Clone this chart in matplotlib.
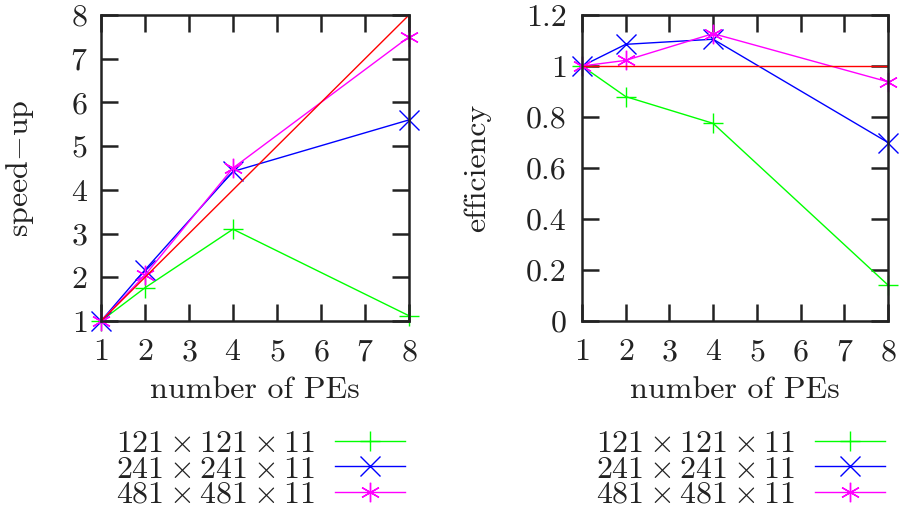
import matplotlib
matplotlib.use("Agg")
import matplotlib.pyplot as plt

plt.rcParams['mathtext.fontset'] = 'cm'
plt.rcParams['font.family'] = ['cmr10', 'DejaVu Serif']
plt.rcParams['axes.formatter.use_mathtext'] = True

pes = [1, 2, 4, 8]
ideal_x = [1, 8]
ideal_speedup = [1, 8]
ideal_eff = [1, 1]

labels = [r'$121 \times 121 \times 11$', r'$241 \times 241 \times 11$', r'$481 \times 481 \times 11$']
speedup_121 = [1, 1.76, 3.1, 1.12]
speedup_241 = [1, 2.17, 4.42, 5.6]
speedup_481 = [1, 2.05, 4.5, 7.5]
eff_121 = [1, 0.88, 0.775, 0.141]
eff_241 = [1, 1.085, 1.105, 0.70]
eff_481 = [1, 1.022, 1.127, 0.938]

colors = ['#00ff00', '#0000ff', '#ff00ff']
markers = ['+', 'x', (6, 2, 0)]
xticks = [1, 2, 3, 4, 5, 6, 7, 8]

fig = plt.figure(figsize=(9.03, 5.14), dpi=100)
ax1 = fig.add_axes([101/903, 1-321/514, 308/903, 306/514])
ax2 = fig.add_axes([582/903, 1-321/514, 306/903, 306/514])

FS = 23
TXT = '#222222'

def style(ax, ypad):
    ax.set_xlim(1, 8)
    ax.set_xticks(xticks)
    ax.tick_params(direction='in', length=12, width=1.8, top=True, right=True,
                   labelsize=FS, colors=TXT)
    ax.tick_params(axis='x', pad=13)
    ax.tick_params(axis='y', pad=ypad)
    for s in ax.spines.values():
        s.set_linewidth(1.8)
        s.set_color(TXT)
    ax.set_xlabel('number of PEs', fontsize=FS, color=TXT, labelpad=7)

handles = []
for ys, c, m, lab in zip([speedup_121, speedup_241, speedup_481], colors, markers, labels):
    h, = ax1.plot(pes, ys, color=c, marker=m, ms=14, mew=1.0, lw=1.0, label=lab, clip_on=False)
    handles.append(h)
ax1.plot(ideal_x, ideal_speedup, color='#ff0000', lw=1.0)
ax1.set_ylim(1, 8)
ax1.set_yticks([1, 2, 3, 4, 5, 6, 7, 8])
style(ax1, 9.5)
ax1.set_ylabel(r'$\mathrm{speed{-}up}$', fontsize=FS, color=TXT, labelpad=25)

for ys, c, m, lab in zip([eff_121, eff_241, eff_481], colors, markers, labels):
    ax2.plot(pes, ys, color=c, marker=m, ms=14, mew=1.0, lw=1.0, label=lab, clip_on=False)
ax2.plot(ideal_x, ideal_eff, color='#ff0000', lw=1.0)
ax2.set_ylim(0, 1.2)
ax2.set_yticks([0, 0.2, 0.4, 0.6, 0.8, 1.0, 1.2])
ax2.set_yticklabels(['0', '0.2', '0.4', '0.6', '0.8', '1', '1.2'])
style(ax2, 11)
ax2.set_ylabel('efficiency', fontsize=FS, color=TXT, labelpad=25)

for ax, xr in [(ax1, 405/903), (ax2, 885/903)]:
    fig.legend(handles=handles, labels=labels, loc='upper right', bbox_to_anchor=(xr, 1-430/514),
               frameon=False, markerfirst=False, fontsize=FS, handlelength=2.2, numpoints=1,
               labelspacing=-0.1, handletextpad=0.6, borderpad=0, borderaxespad=0,
               labelcolor=TXT)

fig.savefig('out.png', dpi=100)
